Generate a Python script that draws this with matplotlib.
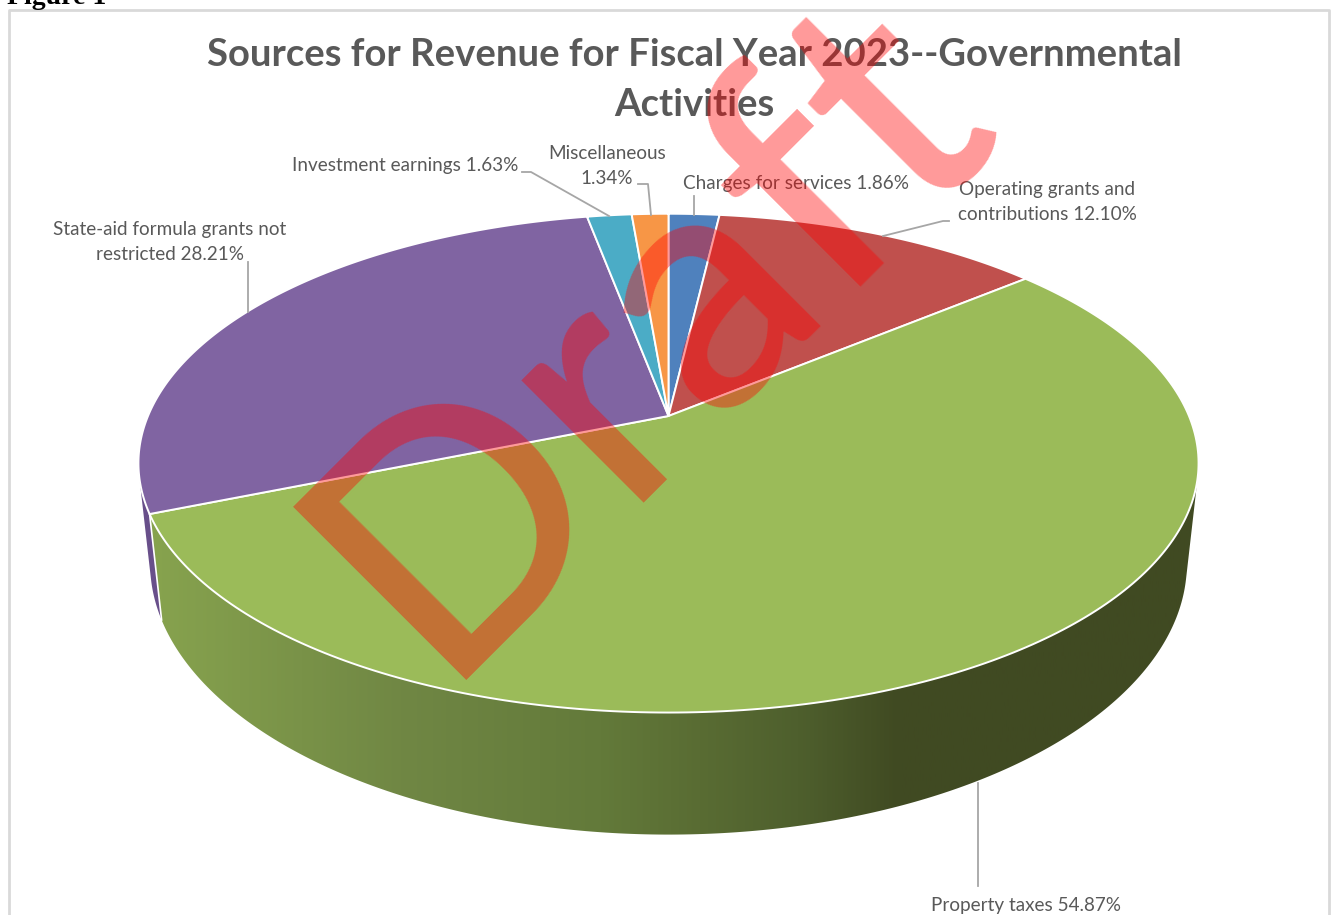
import numpy as np
import matplotlib
matplotlib.use('Agg')
import matplotlib.pyplot as plt
from matplotlib.colors import LinearSegmentedColormap
from matplotlib.patches import Polygon

# clockwise from twelve o'clock
sources = ['Charges for services', 'Operating grants and\ncontributions', 'Property taxes',
           'State-aid formula grants not\nrestricted', 'Investment earnings', 'Miscellaneous\n']
shares = [1.86, 12.10, 54.87, 28.21, 1.63, 1.34]
slice_colors = ['#4f81bd', '#c0504d', '#9bbb59', '#8064a2', '#4bacc6', '#f79646']

title = 'Sources for Revenue for Fiscal Year 2023--Governmental\nActivities'

# perspective disc, in pixels
CX, CY = 668.5, 416
RX, RY = 520.5, 240.5
TILT = 0.189
VANISH_Y = 5090
TEXT = '#595959'
LEADER = '#a6a6a6'


def top_edge(theta):
  x, y = np.sin(theta), np.cos(theta)
  w = 1 + TILT * y
  return CX + RX * x / w, CY - RY * y / w


def bottom_edge(theta):
  # the wall looks taller towards the viewer
  x, y = top_edge(theta)
  yb = y + 106 + (y - 514) * 16 / 198
  return CX + (x - CX) * (VANISH_Y - yb) / (VANISH_Y - y), yb


def arc(start, end, n=240):
  return np.linspace(start, end, n)


def wall_poly(start, end):
  t = arc(start, end)
  xt, yt = top_edge(t)
  xb, yb = bottom_edge(t[::-1])
  return np.column_stack([np.r_[xt, xb], np.r_[yt, yb]])


fig = plt.figure(figsize=(13.33, 9.15), dpi=100)
ax = fig.add_axes([0, 0, 1, 1])
ax.set_xlim(0, 1333)
ax.set_ylim(915, 0)
ax.axis('off')

# chart frame, runs off the bottom
ax.plot([9, 9, 1329, 1329], [915, 10, 10, 915], color='#d9d9d9', lw=2, zorder=1)

edges = 2 * np.pi * np.r_[0, np.cumsum(shares)] / sum(shares)

# silhouette of the side wall: where rays from the vanishing point touch the rim
probe = arc(np.pi * 0.3, np.pi * 1.7, 2000)
px, py = top_edge(probe)
ray = np.arctan2(px - CX, VANISH_Y - py)
right_t, left_t = probe[np.argmax(ray)], probe[np.argmin(ray)]

# purple wall sliver on the far left
ax.add_patch(Polygon(wall_poly(edges[3], left_t), fc='#684f8a', ec='none', zorder=2))

# green wall with its horizontal shading
wall = Polygon(wall_poly(right_t, edges[3]), fc='none', ec='none', zorder=3)
ax.add_patch(wall)
shade = LinearSegmentedColormap.from_list('wall', [
  (0, '#87a34e'), (0.238, '#708744'), (0.429, '#637a3a'), (0.524, '#596c33'),
  (0.619, '#4e5f2d'), (0.714, '#404a22'), (1, '#404a22')])
img = ax.imshow(np.linspace(0, 1, 512)[None, :], cmap=shade, aspect='auto',
                extent=(150, 1200, 915, 0), zorder=3)
img.set_clip_path(wall)
ax.set_xlim(0, 1333)
ax.set_ylim(915, 0)

# lit seam where the wall meets the top of the pie
sx, sy = bottom_edge(edges[3])
tx, ty = top_edge(edges[3])
ax.plot([tx, sx], [ty, sy], color='white', lw=1.2, zorder=4)

# top surface
for i, color in enumerate(slice_colors):
  t = arc(edges[i], edges[i + 1])
  x, y = top_edge(t)
  ax.add_patch(Polygon(np.column_stack([np.r_[CX, x], np.r_[CY, y]]),
                       fc=color, ec='white', lw=1.4, joinstyle='round', zorder=5))

# leader lines
leaders = [
  ([694, 694], [196, 215]),
  ([949, 943, 883], [221, 221, 236]),
  ([978, 978], [783, 886]),
  ([248, 248], [262, 312]),
  ([522, 531, 609], [172, 172, 216]),
  ([638, 648, 651], [184, 184, 215]),
]
for lx, ly in leaders:
  ax.plot(lx, ly, color=LEADER, lw=1.3, zorder=6)

label_pos = [(796, 183), (1047, 202), (1026, 905), (170, 242), (405, 166), (607, 166)]
for name, share, (lx, ly) in zip(sources, shares, label_pos):
  joiner = '' if name.endswith('\n') else ' '
  ax.text(lx, ly, f'{name}{joiner}{share:.2f}%', ha='center', va='center', color=TEXT,
          family='Lato', fontsize=13.6, linespacing=1.52, zorder=7)

ax.text(694, 80, title, ha='center', va='center', color=TEXT, family='Lato',
        fontweight='bold', fontsize=27.5, linespacing=1.54, zorder=7)

ax.text(7, 4, 'Figure 1', ha='left', va='baseline', color='black', family='Liberation Serif',
        fontweight='bold', fontsize=20, zorder=7)

# watermark
ax.text(437, 680, 'Draft', rotation=45, rotation_mode='anchor', ha='left', va='baseline',
        color='red', alpha=0.4, family='Lato', fontweight='medium', fontsize=245, zorder=8)

fig.savefig('out.png', dpi=100)
